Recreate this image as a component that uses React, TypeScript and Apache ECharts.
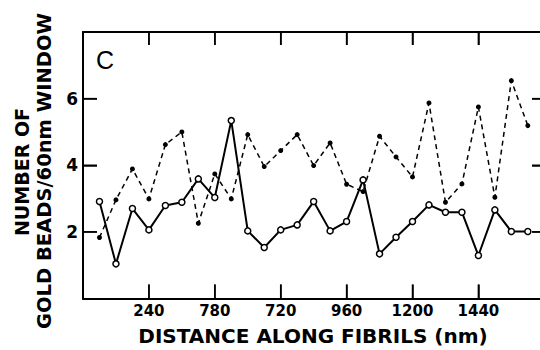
import React, { useEffect, useRef } from "react";
import * as echarts from "echarts";

const distances = [60, 120, 180, 240, 300, 360, 420, 480, 540, 600, 660, 720, 780, 840, 900, 960, 1020, 1080, 1140, 1200, 1260, 1320, 1380, 1440, 1500, 1560, 1620];
const openCounts = [2.91, 1.04, 2.7, 2.06, 2.79, 2.89, 3.59, 3.03, 5.34, 2.03, 1.53, 2.06, 2.21, 2.91, 2.03, 2.31, 3.56, 1.34, 1.84, 2.31, 2.81, 2.59, 2.59, 1.29, 2.66, 2.01, 2.01];
const filledCounts = [1.83, 2.96, 3.89, 2.99, 4.62, 5.0, 2.26, 3.74, 2.99, 4.92, 3.96, 4.44, 4.92, 3.99, 4.67, 3.43, 3.21, 4.87, 4.25, 3.65, 5.87, 2.89, 3.44, 5.75, 3.04, 6.54, 5.19];
const xTickValues = [240, 480, 720, 960, 1200, 1440];
const xTickLabels = ["240", "780", "720", "960", "1200", "1440"];
const yTickValues = [2, 4, 6];

const FONT = "DejaVu Sans";
const X_MIN = 0;
const X_MAX = 1668;
const Y_MIN = 0;
const Y_MAX = 8;

function yLabel(v: number): string {
  for (let i = 0; i < yTickValues.length; i++) {
    if (Math.abs(yTickValues[i] - v) < 1e-6) return String(yTickValues[i]);
  }
  return "";
}

export default function App() {
  const ref = useRef<HTMLDivElement>(null);
  useEffect(() => {
    if (!ref.current) return;
    const chart = echarts.init(ref.current, null, { renderer: "svg" });
    const lineStyle = () => ({ stroke: "#000", lineWidth: 1.5 });
    const option: any = {
      animation: false,
      backgroundColor: "#fff",
      grid: { left: 83, right: -1, top: 32, bottom: 51.5, outerBoundsMode: "none" },
      xAxis: [
        {
          type: "value",
          position: "bottom",
          min: X_MIN,
          max: X_MAX,
          interval: 240,
          axisLine: { show: true, onZero: false, lineStyle: { color: "#000", width: 2 } },
          splitLine: { show: false },
          axisTick: { show: true, inside: true, length: 14 , lineStyle: { color: "#000", width: 1.5 } },
          axisLabel: { show: false },
        },
        {
          type: "value",
          position: "top",
          min: X_MIN,
          max: X_MAX,
          interval: 240,
          axisLine: { show: true, onZero: false, lineStyle: { color: "#000", width: 2 } },
          splitLine: { show: false },
          axisTick: { show: true, inside: true, length: 13, lineStyle: { color: "#000", width: 1.5 } },
          axisLabel: { show: false },
        },
      ],
      yAxis: [
        {
          type: "value",
          position: "left",
          min: Y_MIN,
          max: Y_MAX,
          interval: 2,
          axisLine: { show: true, onZero: false, lineStyle: { color: "#000", width: 2 } },
          splitLine: { show: false },
          axisTick: { show: true, inside: true, length: 14, lineStyle: { color: "#000", width: 1.5 } },
          axisLabel: {
            formatter: yLabel,
            color: "#000",
            fontFamily: FONT,
            fontWeight: "bold",
            fontSize: 17,
            margin: 5,
          },
        },
        {
          type: "value",
          position: "right",
          min: Y_MIN,
          max: Y_MAX,
          interval: 2,
          axisLine: { show: true, onZero: false, lineStyle: { color: "#000", width: 2 } },
          splitLine: { show: false },
          axisTick: { show: true, inside: true, length: 9, lineStyle: { color: "#000", width: 1.5 } },
          axisLabel: { show: false },
        },
      ],
      series: [
        {
          type: "custom",
          silent: true,
          clip: false,
          z: 5,
          data: xTickValues.map((v) => [v, Y_MIN]),
          renderItem: (params: any, api: any) => {
            const v = api.value(0);
            const b = api.coord([v, Y_MIN]);
            const t = api.coord([v, Y_MAX]);
            return {
              type: "group",
              children: [
                { type: "line", shape: { x1: b[0], y1: b[1], x2: b[0], y2: b[1] - 14 }, style: lineStyle() },
                { type: "line", shape: { x1: t[0], y1: t[1], x2: t[0], y2: t[1] + 13 }, style: lineStyle() },
                {
                  type: "text",
                  x: b[0],
                  y: b[1] + 12,
                  style: {
                    text: xTickLabels[params.dataIndex],
                    font: `bold 15px '${FONT}'`,
                    fill: "#000",
                    textAlign: "center",
                    textVerticalAlign: "middle",
                  },
                },
              ],
            };
          },
        },
        {
          type: "custom",
          silent: true,
          clip: false,
          z: 5,
          data: yTickValues.map((v) => [X_MIN, v]),
          renderItem: (params: any, api: any) => {
            const v = api.value(1);
            const l = api.coord([X_MIN, v]);
            const r = api.coord([X_MAX, v]);
            return {
              type: "group",
              children: [
                { type: "line", shape: { x1: l[0], y1: l[1], x2: l[0] + 14, y2: l[1] }, style: lineStyle() },
                { type: "line", shape: { x1: r[0], y1: r[1], x2: r[0] - 9, y2: r[1] }, style: lineStyle() },
              ],
            };
          },
        },
        {
          type: "line",
          data: distances.map((d, i) => [d, filledCounts[i]]),
          symbol: "circle",
          symbolSize: 5,
          itemStyle: { color: "#000" },
          lineStyle: { color: "#000", width: 1.5, type: [5, 4] },
        },
        {
          type: "line",
          data: distances.map((d, i) => [d, openCounts[i]]),
          symbol: "circle",
          symbolSize: 6,
          itemStyle: { color: "#fff", borderColor: "#000", borderWidth: 1.5 },
          lineStyle: { color: "#000", width: 2 },
        },
      ],
      graphic: [
        {
          type: "text",
          x: 96,
          y: 60,
          style: { text: "C", font: "normal 25px 'Liberation Sans'", fill: "#000", textAlign: "left", textVerticalAlign: "middle" },
        },
        {
          type: "text",
          x: 22,
          y: 172,
          rotation: Math.PI / 2,
          style: { text: "NUMBER OF", font: `bold 19px '${FONT}'`, fill: "#000", textAlign: "center", textVerticalAlign: "middle" },
        },
        {
          type: "text",
          x: 44,
          y: 171,
          rotation: Math.PI / 2,
          style: { text: "GOLD BEADS/60nm WINDOW", font: `bold 19.5px '${FONT}'`, fill: "#000", textAlign: "center", textVerticalAlign: "middle" },
        },
        {
          type: "text",
          x: 313,
          y: 336,
          style: { text: "DISTANCE ALONG FIBRILS (nm)", font: `bold 20px '${FONT}'`, fill: "#000", textAlign: "center", textVerticalAlign: "middle" },
        },
      ],
    };
    chart.setOption(option);
    return () => chart.dispose();
  }, []);
  return <div ref={ref} style={{ position: "absolute", left: 0, top: 0, width: 540, height: 350 }} />;
}
